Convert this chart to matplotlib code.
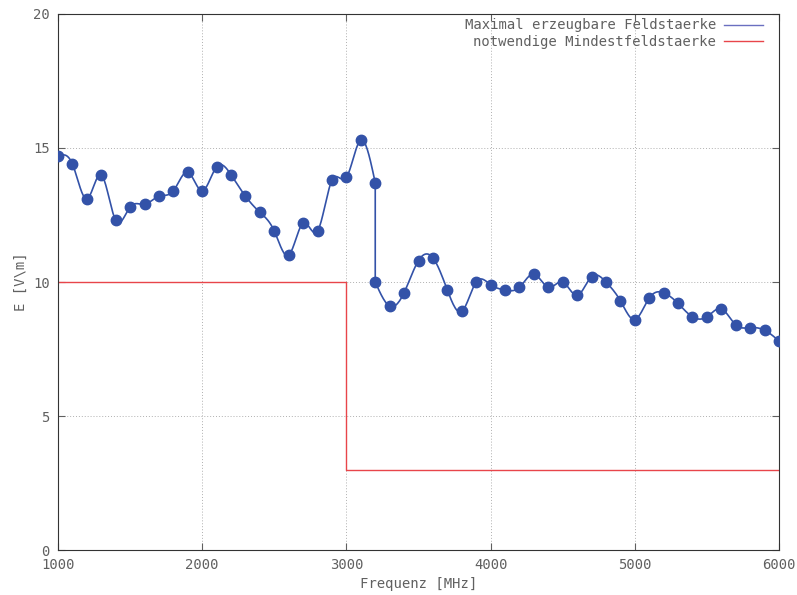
import numpy as np
import matplotlib
matplotlib.use("Agg")
import matplotlib.pyplot as plt

# Messpunkte (MHz, V/m); bei 3200 MHz zwei Werte (Sprung)
freq_a = [1000, 1100, 1200, 1300, 1400, 1500, 1600, 1700, 1800, 1900, 2000,
          2100, 2200, 2300, 2400, 2500, 2600, 2700, 2800, 2900, 3000, 3100, 3200]
feld_a = [14.7, 14.4, 13.1, 14.0, 12.3, 12.8, 12.9, 13.2, 13.4, 14.1, 13.4,
          14.3, 14.0, 13.2, 12.6, 11.9, 11.0, 12.2, 11.9, 13.8, 13.9, 15.3, 13.7]
freq_b = [3200, 3300, 3400, 3500, 3600, 3700, 3800, 3900, 4000, 4100, 4200,
          4300, 4400, 4500, 4600, 4700, 4800, 4900, 5000, 5100, 5200, 5300,
          5400, 5500, 5600, 5700, 5800, 5900, 6000]
feld_b = [10.0, 9.1, 9.6, 10.8, 10.9, 9.7, 8.9, 10.0, 9.9, 9.7, 9.8,
          10.3, 9.8, 10.0, 9.5, 10.2, 10.0, 9.3, 8.6, 9.4, 9.6, 9.2,
          8.7, 8.7, 9.0, 8.4, 8.3, 8.2, 7.8]

# Grenzwert
grenz_freq = [1000, 3000, 3000, 6000]
grenz_feld = [10, 10, 3, 3]


def natural_spline(x, y, n=400):
    x = np.asarray(x, float)
    y = np.asarray(y, float)
    h = np.diff(x)
    m = len(x)
    A = np.zeros((m, m))
    r = np.zeros(m)
    A[0, 0] = A[-1, -1] = 1
    for i in range(1, m - 1):
        A[i, i - 1] = h[i - 1]
        A[i, i] = 2 * (h[i - 1] + h[i])
        A[i, i + 1] = h[i]
        r[i] = 6 * ((y[i + 1] - y[i]) / h[i] - (y[i] - y[i - 1]) / h[i - 1])
    M = np.linalg.solve(A, r)
    xs = np.linspace(x[0], x[-1], n)
    k = np.clip(np.searchsorted(x, xs) - 1, 0, m - 2)
    t0 = xs - x[k]
    t1 = x[k + 1] - xs
    hk = h[k]
    ys = (M[k] * t1**3 + M[k + 1] * t0**3) / (6 * hk) \
        + (y[k] / hk - M[k] * hk / 6) * t1 + (y[k + 1] / hk - M[k + 1] * hk / 6) * t0
    return xs, ys


plt.rcParams['font.family'] = 'DejaVu Sans Mono'
plt.rcParams['font.size'] = 10

fig = plt.figure(figsize=(7.97, 5.95), dpi=100)
ax = fig.add_axes([0.0728, 0.0756, 0.9046, 0.9009])

blau = '#3352a8'
rot = '#e8454a'
grau = '#606060'

xa, ya = natural_spline(freq_a, feld_a)
xb, yb = natural_spline(freq_b, feld_b)
xs = np.concatenate([xa, xb])
ys = np.concatenate([ya, yb])

ax.plot(xs, ys, color=blau, lw=1.2, zorder=3)
ax.plot(freq_a + freq_b, feld_a + feld_b, 'o', color=blau, ms=7.5, zorder=4)
ax.plot(grenz_freq, grenz_feld, color=rot, lw=1.0, zorder=2)

# Legendeneintraege nur als Linie
h1, = ax.plot([], [], color='#6a6fc0', lw=1.0, label='Maximal erzeugbare Feldstaerke')
h2, = ax.plot([], [], color=rot, lw=1.0, label='notwendige Mindestfeldstaerke')
leg = ax.legend(handles=[h1, h2], loc='upper right', frameon=False,
                markerfirst=False, handlelength=2.8, handletextpad=0.6,
                fontsize=10, bbox_to_anchor=(0.986, 1.002),
                borderaxespad=0.0, labelspacing=0.18)
for t in leg.get_texts():
    t.set_color(grau)

ax.set_xlim(1000, 6000)
ax.set_ylim(0, 20)
ax.set_xticks(range(1000, 6001, 1000))
ax.set_yticks(range(0, 21, 5))
ax.grid(True, color='#b0b0b0', ls=(0, (1, 2)), lw=0.7)
ax.tick_params(direction='in', top=True, right=True, colors=grau,
               length=5, labelsize=10, pad=6)
for s in ax.spines.values():
    s.set_color('#333333')
    s.set_linewidth(0.8)

ax.set_xlabel('Frequenz [MHz]', color=grau, fontsize=10, labelpad=3)
ax.set_ylabel('E [V\\m]', color=grau, fontsize=10, labelpad=4)

fig.savefig('out.png', dpi=100)
